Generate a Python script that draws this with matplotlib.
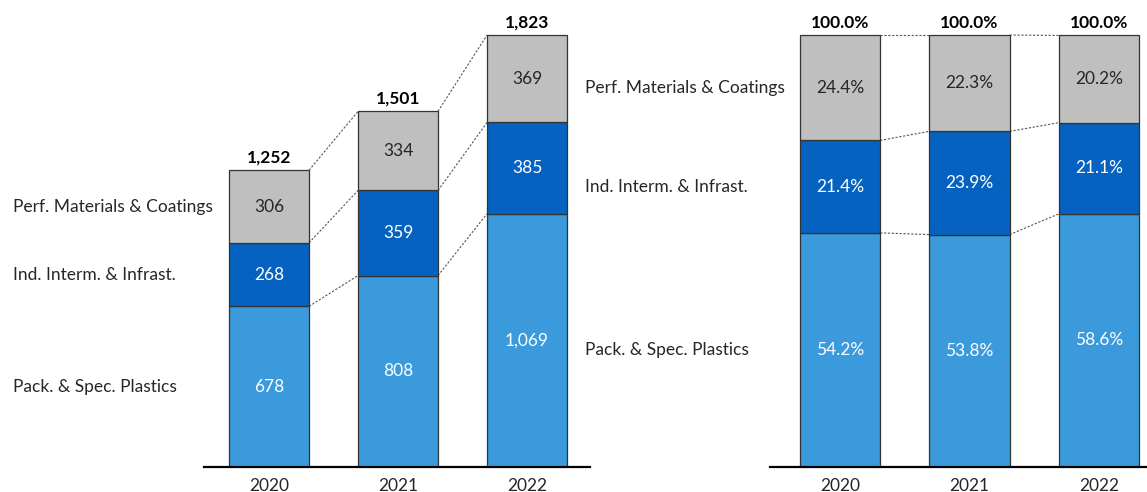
import matplotlib.pyplot as plt
import matplotlib.transforms as mtrans

plt.rcParams['font.family'] = ['Lato', 'DejaVu Sans']

years = ['2020', '2021', '2022']
segments = ['Pack. & Spec. Plastics', 'Ind. Interm. & Infrast.', 'Perf. Materials & Coatings']
pack = [678, 808, 1069]
ind = [268, 359, 385]
perf = [306, 334, 369]
totals = [1252, 1501, 1823]

pack_pct = [54.2, 53.8, 58.6]
ind_pct = [21.4, 23.9, 21.1]
perf_pct = [24.4, 22.3, 20.2]
totals_pct = [100.0, 100.0, 100.0]

colors = ['#3A9ADC', '#0562C1', '#BFBFBF']
text_colors = ['white', 'white', '#262626']
FS = 12.5

W, H = 1147, 492
fig = plt.figure(figsize=(W / 100, H / 100), dpi=100)


def px_axes(x0, x1, y_top, y_bot):
    return fig.add_axes([x0 / W, (H - y_bot) / H, (x1 - x0) / W, (y_bot - y_top) / H])


def draw_panel(ax, series, totals, fmt, top_value):
    width = 0.62
    x = list(range(len(years)))
    bottoms = [0] * len(years)
    bounds = []
    for s, vals in enumerate(series):
        ax.bar(x, vals, width, bottom=bottoms, color=colors[s],
               edgecolor='#333333', linewidth=0.9, zorder=2)
        for i, v in enumerate(vals):
            ax.text(x[i], bottoms[i] + v / 2, fmt(v), ha='center', va='center',
                    color=text_colors[s], fontsize=FS, zorder=3)
        bottoms = [b + v for b, v in zip(bottoms, vals)]
        bounds.append(list(bottoms))
    # dashed connectors between bars
    for b in bounds:
        for i in range(len(x) - 1):
            ax.plot([x[i] + width / 2, x[i + 1] - width / 2], [b[i], b[i + 1]],
                    ls=(0, (2, 1.5)), color='#555555', lw=0.8, zorder=1)
    for i, t in enumerate(totals):
        ax.text(x[i], bottoms[i] + top_value * 0.01, fmt(t), ha='center',
                va='bottom', fontsize=FS, fontweight='bold', color='black')
    ax.set_xticks(x)
    ax.set_xticklabels(years, fontsize=FS, color='#262626')
    ax.tick_params(axis='x', length=0, pad=8)
    ax.set_yticks([])
    for sp in ['top', 'right', 'left']:
        ax.spines[sp].set_visible(False)
    ax.spines['bottom'].set_linewidth(1.6)
    ax.spines['bottom'].set_color('black')


def name_labels(ax, series, x_px):
    blend = mtrans.blended_transform_factory(fig.transFigure, ax.transData)
    base = 0
    for name, vals in zip(segments, series):
        ax.text(x_px / W, base + vals[0] / 2, name, transform=blend, ha='left',
                va='center', fontsize=FS, color='#262626')
        base += vals[0]


# left panel: absolute values
axL = px_axes(204, 590, 20, 467)
axL.set_xlim(-0.504, 2.488)
axL.set_ylim(0, 1823 * 447 / 432)
draw_panel(axL, [pack, ind, perf], totals, lambda v: f'{v:,}', 1823)
name_labels(axL, [pack, ind, perf], 13)

# right panel: shares
axR = px_axes(770, 1147, 20, 467)
axR.set_xlim(-0.54, 2.37)
axR.set_ylim(0, 100 * 447 / 432)
draw_panel(axR, [pack_pct, ind_pct, perf_pct], totals_pct, lambda v: f'{v:.1f}%', 100)
name_labels(axR, [pack_pct, ind_pct, perf_pct], 585)

fig.savefig('out.png', dpi=100)
